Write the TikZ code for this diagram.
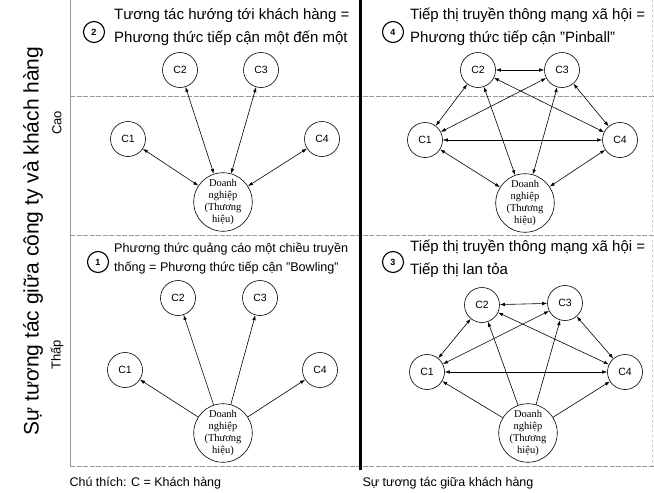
\documentclass[tikz,border=0pt]{standalone}
\usepackage{fontspec}
\setmainfont{Liberation Sans}
\newfontfamily\firmfont{Liberation Serif}
\usetikzlibrary{arrows.meta}

\begin{document}
\begin{tikzpicture}[x=1pt,y=-1pt,
  cust/.style={circle,draw,line width=0.6pt,minimum size=35pt,inner sep=0pt,
    font=\fontsize{10.5}{10.5}\selectfont},
  firm/.style={circle,draw,line width=0.6pt,minimum size=56pt,inner sep=0pt,align=center,
    font=\firmfont\fontsize{10.5}{12}\selectfont},
  badge/.style={circle,draw,line width=1.1pt,minimum size=21pt,inner sep=0pt,
    font=\bfseries\fontsize{9}{9}\selectfont},
  ttl/.style={anchor=west,align=left,inner sep=0pt,font=\fontsize{15}{23}\selectfont},
  ttlsmall/.style={anchor=west,align=left,inner sep=0pt,font=\fontsize{12.6}{19}\selectfont},
  foot/.style={anchor=west,font=\fontsize{12.5}{12.5}\selectfont},
  tip/.tip={Latex[length=5pt,width=3.5pt]},
  both/.style={tip-tip,line width=0.6pt},
  one/.style={-tip,line width=0.6pt},
  grid/.style={gray!80,line width=0.5pt,dash pattern=on 5pt off 1.5pt},
  axis/.style={font=\fontsize{13}{13}\selectfont,rotate=90}
]
\useasboundingbox (0,0) rectangle (654,493);

% frame of the matrix
\draw[gray!80,line width=0.5pt] (70,0) -- (70,466);
\draw[grid] (70,96) -- (654,96);
\draw[grid] (70,235) -- (654,235);
\draw[grid] (70,466) -- (654,466);
\draw[gray!50,line width=0.4pt,dash pattern=on 2pt off 3pt] (652,0) -- (652,466);
\draw[line width=3pt] (360,0) -- (360,470);

% axis labels
\node[rotate=90,font=\fontsize{21}{21}\selectfont] (yaxis) at (33,241) {Sự tương tác giữa công ty và khách hàng};
\node[axis] (hi) at (57,123) {Cao};
\node[axis] (lo) at (57,355) {Thấp};
\node[foot] (legend) at (66,483) {Chú thích: C = Khách hàng};
\node[foot] (xaxis) at (359,483) {Sự tương tác giữa khách hàng};

% ---------- quadrant 2: one-to-one ----------
\node[badge] (b2) at (94,32) {2};
\node[ttl] (t2) at (114,27) {Tương tác hướng tới khách hàng =\\Phương thức tiếp cận một đến một};
\node[cust] (a2) at (180,70) {C2};
\node[cust] (a3) at (261,70) {C3};
\node[cust] (a1) at (128,139) {C1};
\node[cust] (a4) at (322,139) {C4};
\node[firm] (af) at (223,202) {Doanh\\nghiệp\\(Thương\\hiệu)};
\draw[both] (a1) -- (af);
\draw[both] (a2) -- (af);
\draw[both] (a3) -- (af);
\draw[both] (a4) -- (af);

% ---------- quadrant 4: pinball ----------
\node[badge] (b4) at (393,32) {4};
\node[ttl] (t4) at (410,27) {Tiếp thị truyền thông mạng xã hội =\\Phương thức tiếp cận "Pinball"};
\node[cust] (p2) at (478,70) {C2};
\node[cust] (p3) at (562,70) {C3};
\node[cust] (p1) at (425,140) {C1};
\node[cust] (p4) at (620,140) {C4};
\node[firm] (pf) at (525,203) {Doanh\\nghiệp\\(Thương\\hiệu)};
\draw[both] (p2) -- (p3);
\draw[both] (p2) -- (p1);
\draw[both] (p2) -- (p4);
\draw[both] (p2) -- (pf);
\draw[both] (p3) -- (p1);
\draw[both] (p3) -- (p4);
\draw[both] (p3) -- (pf);
\draw[both] (p1) -- (p4);
\draw[both] (p1) -- (pf);
\draw[both] (p4) -- (pf);

% ---------- quadrant 1: bowling ----------
\node[badge] (b1) at (98,262) {1};
\node[ttlsmall] (t1) at (114,258) {Phương thức quảng cáo một chiều truyền\\thống = Phương thức tiếp cận "Bowling"};
\node[cust] (w2) at (178,298) {C2};
\node[cust] (w3) at (260,298) {C3};
\node[cust] (w1) at (125,370) {C1};
\node[cust] (w4) at (320,370) {C4};
\node[firm] (wf) at (223,433) {Doanh\\nghiệp\\(Thương\\hiệu)};
\draw[one] (wf) -- (w1);
\draw[one] (wf) -- (w2);
\draw[one] (wf) -- (w3);
\draw[one] (wf) -- (w4);

% ---------- quadrant 3: viral ----------
\node[badge] (b3) at (393,262) {3};
\node[ttl] (t3) at (410,259) {Tiếp thị truyền thông mạng xã hội =\\Tiếp thị lan tỏa};
\node[cust] (v2) at (482,305) {C2};
\node[cust] (v3) at (565,303) {C3};
\node[cust] (v1) at (427,372) {C1};
\node[cust] (v4) at (625,372) {C4};
\node[firm] (vf) at (528,433) {Doanh\\nghiệp\\(Thương\\hiệu)};
\draw[both] (v2) -- (v3);
\draw[both] (v2) -- (v1);
\draw[both] (v2) -- (v4);
\draw[both] (v3) -- (v1);
\draw[both] (v3) -- (v4);
\draw[both] (v1) -- (v4);
\draw[one] (vf) -- (v1);
\draw[one] (vf) -- (v2);
\draw[one] (vf) -- (v3);
\draw[one] (vf) -- (v4);
\end{tikzpicture}
\end{document}
